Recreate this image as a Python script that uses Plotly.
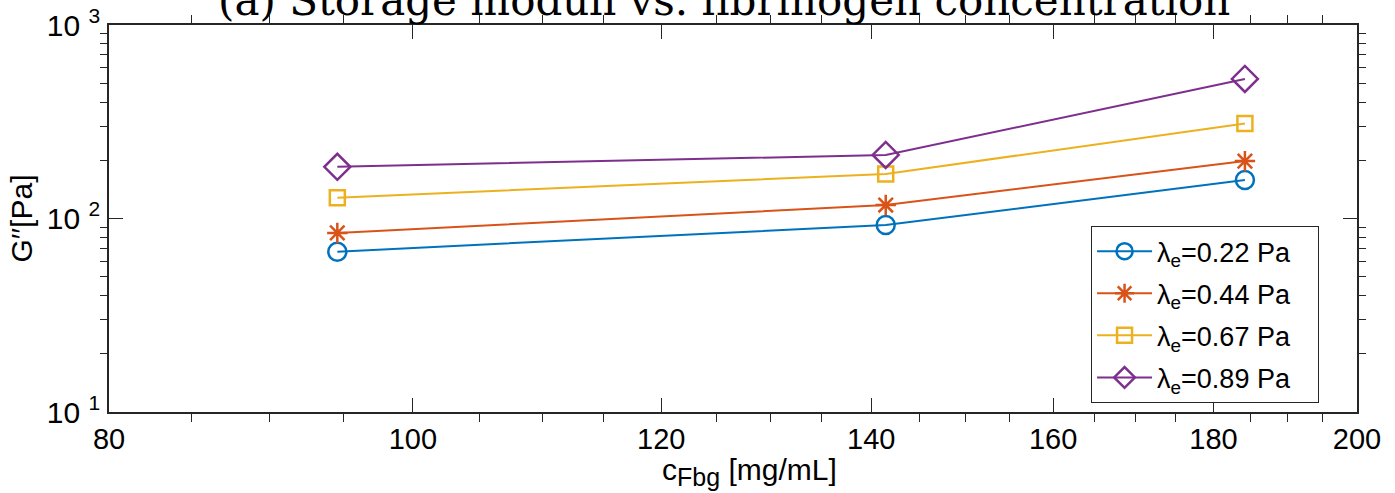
import plotly.graph_objects as go

# Fibrinogen concentration [mg/mL]
c_fbg = [94.6, 141.5, 184.2]

# Storage modulus G'' [Pa] for each elastic parameter
g_022 = [67.4, 92.5, 158.0]
g_044 = [84.2, 117.4, 198.0]
g_067 = [128.0, 169.8, 310.0]
g_089 = [185.0, 213.0, 526.0]

series_names = ["λ<sub>e</sub>=0.22 Pa", "λ<sub>e</sub>=0.44 Pa",
                "λ<sub>e</sub>=0.67 Pa", "λ<sub>e</sub>=0.89 Pa"]
series_values = [g_022, g_044, g_067, g_089]
colors = ["#0072BD", "#D95319", "#EDB120", "#7E2F8E"]
symbols = ["circle-open", "asterisk-open", "square-open", "diamond-open"]
sizes = [18, 17, 15, 20]

x_ticks = [80, 100, 120, 140, 160, 180, 200]
x_minor = [v for v in range(85, 200, 5) if v not in x_ticks]
y_ticks = [10, 100, 1000]
y_ticklabels = ["10 <sup>1</sup>", "10 <sup>2</sup>", "10 <sup>3</sup>"]
y_minor = [m * 10 ** e for e in (1, 2) for m in range(2, 10)]

AX = "#262626"
SANS = "Liberation Sans, Arial, Helvetica, sans-serif"
PAD = "\u00a0" * 3  # right padding inside the legend box

fig = go.Figure()
for name, vals, col, sym, sz in zip(series_names, series_values, colors, symbols, sizes):
    fig.add_trace(go.Scatter(
        x=c_fbg, y=vals, name=name + PAD, mode="lines+markers",
        legendgroup=name,
        line=dict(color=col, width=2),
        marker=dict(symbol=sym, size=sz, color=col, line=dict(color=col, width=2.5)),
    ))

axis_common = dict(
    showline=True, linecolor=AX, linewidth=1.5, mirror="allticks",
    ticks="inside", tickcolor=AX, tickwidth=1, ticklen=14,
    showgrid=False, zeroline=False, automargin=False,
)

fig.update_xaxes(
    type="log", range=[2 - 0.0969100130, 2.3010299957],
    tickmode="array", tickvals=x_ticks, ticktext=[str(v) for v in x_ticks],
    tickfont=dict(family=SANS, size=29, color="#000000"),
    minor=dict(tickmode="array", tickvals=x_minor, ticklen=8, tickcolor=AX, showgrid=False),
    **axis_common,
)
fig.update_yaxes(
    type="log", range=[1, 3],
    tickmode="array", tickvals=y_ticks, ticktext=y_ticklabels,
    tickfont=dict(family=SANS, size=30, color="#000000"),
    ticklabelstandoff=1,
    minor=dict(tickmode="array", tickvals=y_minor, ticklen=7, tickcolor=AX, showgrid=False),
    title=dict(text="G\u2032\u2032[Pa]", standoff=5,
               font=dict(family=SANS, size=30, color="#000000")),
    **axis_common,
)

# x-axis label
fig.add_annotation(
    text="c<sub><span style='font-size:25px'>Fbg</span></sub> [mg/mL]",
    xref="paper", yref="paper", x=0.5136, y=-0.1, xanchor="center", yanchor="top",
    showarrow=False,
    font=dict(family=SANS, size=30, color="#000000"),
)

fig.add_annotation(
    text="(a) Storage moduli vs. fibrinogen concentration",
    xref="paper", yref="paper", x=0.493, y=0.994, xanchor="center", yanchor="bottom",
    showarrow=False,
    font=dict(family="DejaVu Serif, Liberation Serif, serif", size=42, color="#000000"),
)

fig.update_layout(
    width=1395, height=493,
    margin=dict(l=109, r=38, t=25, b=81),
    paper_bgcolor="white", plot_bgcolor="white",
    showlegend=True,
    legend=dict(
        x=0.9696, xanchor="right", y=0.023, yanchor="bottom",
        bgcolor="white", bordercolor=AX, borderwidth=1,
        font=dict(family=SANS, size=27, color="#000000"),
        itemwidth=55, tracegroupgap=4, traceorder="grouped",
    ),
)

fig.write_html("out.html")
